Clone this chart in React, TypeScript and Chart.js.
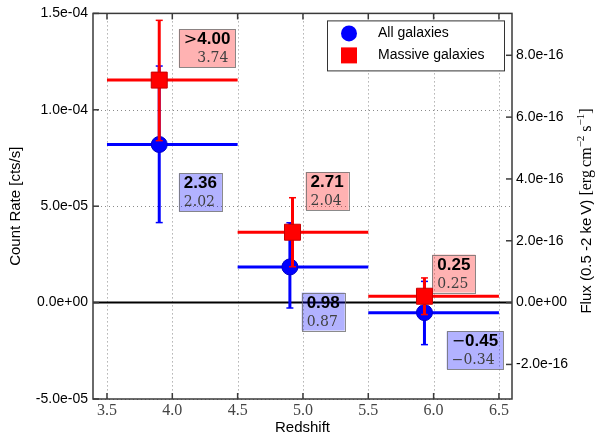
import { useEffect, useRef } from "react";
import { Chart, registerables } from "chart.js";

Chart.register(...registerables);

// Axis ticks
const redshiftTicks = [3.5, 4.0, 4.5, 5.0, 5.5, 6.0, 6.5];
const countRateTicks = [-5e-5, 0, 5e-5, 1e-4, 1.5e-4];
const fluxTicks = [-2e-16, 0, 2e-16, 4e-16, 6e-16, 8e-16];

// Redshift bins
const binLow = [3.5, 4.5, 5.5];
const binHigh = [4.5, 5.5, 6.5];

// All galaxies: stacked count rate and 1-sigma range
const allZ = [3.9, 4.9, 5.93];
const allRate = [8.2e-5, 1.85e-5, -0.52e-5];
const allRateLow = [4.15e-5, -0.28e-5, -2.18e-5];
const allRateHigh = [1.227e-4, 4.14e-5, 1.1e-5];

// Massive galaxies: stacked count rate and 1-sigma range
const massiveZ = [3.9, 4.92, 5.93];
const massiveRate = [1.154e-4, 3.65e-5, 0.33e-5];
const massiveRateLow = [8.4e-5, 1.86e-5, -0.62e-5];
const massiveRateHigh = [1.464e-4, 5.44e-5, 1.28e-5];

// Detection significances (upper: bold, lower: second estimate)
const allSigTop = ["2.36", "0.98", "\u22120.45"];
const allSigBottom = ["2.02", "0.87", "\u22120.34"];
const massiveSigTop = [">4.00", "2.71", "0.25"];
const massiveSigBottom = ["3.74", "2.04", "0.25"];

// Where each significance box sits (top-left corner, in redshift / count-rate units)
const allNoteAt = [
  [4.05, 6.7e-5],
  [4.99, 0.52e-5],
  [6.1, -1.49e-5],
];
const massiveNoteAt = [
  [4.05, 1.417e-4],
  [5.02, 6.77e-5],
  [5.99, 2.49e-5],
];

const BLUE = "#0000ff";
const RED = "#ff0000";
const FRAME = "#3a3a3a";
const SANS = "'Liberation Sans', Arial, sans-serif";
const SERIF = "'Liberation Serif', 'Times New Roman', serif";

function sciLabel(v: number): string {
  if (Math.abs(v) < 1e-30) return "0.0e+00";
  const [m, e] = v.toExponential(1).split("e");
  const n = parseInt(e, 10);
  return `${m}e${n < 0 ? "-" : "+"}${String(Math.abs(n)).padStart(2, "0")}`;
}

function seg(ctx: any, x1: number, y1: number, x2: number, y2: number) {
  ctx.beginPath();
  ctx.moveTo(x1, y1);
  ctx.lineTo(x2, y2);
  ctx.stroke();
}

function drawNote(ctx: any, px: number, py: number, top: string, bottom: string, fill: string) {
  const m = top.match(/^([>\u2212])(.*)$/);
  const prefix = m ? m[1] : "";
  const num = m ? m[2] : top;
  const prefixFont = "16px 'DejaVu Sans', sans-serif";
  const boldFont = `bold 17px ${SANS}`;
  const lowFont = "14px 'DejaVu Serif', serif";
  ctx.font = prefixFont;
  const pw = prefix ? ctx.measureText(prefix).width : 0;
  ctx.font = boldFont;
  const nw = ctx.measureText(num).width;
  ctx.font = lowFont;
  const bw = ctx.measureText(bottom).width;
  const indent = prefix === ">" ? pw : 0;
  const tw = Math.max(pw + nw, indent + bw);
  const pad = 5;
  const w = tw + pad * 2;
  const h = 38;
  ctx.fillStyle = fill;
  ctx.fillRect(px, py, w, h);
  ctx.strokeStyle = "rgba(110,110,110,0.8)";
  ctx.lineWidth = 1;
  ctx.strokeRect(Math.round(px) + 0.5, Math.round(py) + 0.5, Math.round(w), h);
  ctx.textAlign = "left";
  ctx.textBaseline = "alphabetic";
  ctx.fillStyle = "#000";
  if (prefix) {
    ctx.font = prefixFont;
    ctx.fillText(prefix, px + pad, py + 15);
  }
  ctx.font = boldFont;
  ctx.fillText(num, px + pad + pw, py + 15);
  ctx.font = lowFont;
  ctx.fillStyle = "#404040";
  ctx.fillText(bottom, px + pad + indent, py + 33);
}

const errorSets = [
  { z: allZ, rate: allRate, lo: allRateLow, hi: allRateHigh, color: BLUE },
  { z: massiveZ, rate: massiveRate, lo: massiveRateLow, hi: massiveRateHigh, color: RED },
];

const decor = {
  id: "decor",
  beforeDatasetsDraw(chart: any) {
    const { ctx, chartArea: a, scales } = chart;
    const xs = scales.x;
    const ys = scales.y;
    ctx.save();
    // dotted grid
    ctx.strokeStyle = "#8a8a8a";
    ctx.lineWidth = 1;
    ctx.setLineDash([1, 3]);
    for (const v of redshiftTicks) {
      const px = Math.round(xs.getPixelForValue(v)) + 0.5;
      seg(ctx, px, a.top, px, a.bottom);
    }
    for (const v of countRateTicks) {
      if (v === 0) continue;
      const py = Math.round(ys.getPixelForValue(v)) + 0.5;
      seg(ctx, a.left, py, a.right, py);
    }
    ctx.setLineDash([]);
    // zero level
    const y0 = ys.getPixelForValue(0);
    ctx.strokeStyle = "#000";
    ctx.lineWidth = 2;
    seg(ctx, a.left, y0, a.right, y0);
    // significance boxes
    massiveNoteAt.forEach(([x, y], i) => {
      drawNote(ctx, xs.getPixelForValue(x), ys.getPixelForValue(y), massiveSigTop[i], massiveSigBottom[i], "rgba(255,0,0,0.3)");
    });
    allNoteAt.forEach(([x, y], i) => {
      drawNote(ctx, xs.getPixelForValue(x), ys.getPixelForValue(y), allSigTop[i], allSigBottom[i], "rgba(0,0,255,0.3)");
    });
    ctx.restore();
  },
  beforeDatasetDraw(chart: any, args: any) {
    const set = errorSets[args.index];
    if (!set) return;
    const { ctx, scales } = chart;
    const xs = scales.x;
    const ys = scales.y;
    ctx.save();
    ctx.strokeStyle = set.color;
    set.z.forEach((z: number, i: number) => {
      const cy = ys.getPixelForValue(set.rate[i]);
      const cx = xs.getPixelForValue(z);
      const yLo = ys.getPixelForValue(set.lo[i]);
      const yHi = ys.getPixelForValue(set.hi[i]);
      ctx.lineWidth = 3;
      seg(ctx, xs.getPixelForValue(binLow[i]), cy, xs.getPixelForValue(binHigh[i]), cy);
      seg(ctx, cx, yLo, cx, yHi);
      ctx.lineWidth = 1.5;
      seg(ctx, cx - 3.5, yLo, cx + 3.5, yLo);
      seg(ctx, cx - 3.5, yHi, cx + 3.5, yHi);
    });
    ctx.restore();
  },
  afterDraw(chart: any) {
    const { ctx, chartArea: a, scales } = chart;
    ctx.save();
    // frame and inward ticks
    ctx.strokeStyle = FRAME;
    ctx.lineWidth = 1.5;
    ctx.strokeRect(a.left, a.top, a.right - a.left, a.bottom - a.top);
    for (const v of redshiftTicks) {
      const px = scales.x.getPixelForValue(v);
      seg(ctx, px, a.bottom, px, a.bottom - 6);
      seg(ctx, px, a.top, px, a.top + 6);
    }
    for (const v of countRateTicks) {
      const py = scales.y.getPixelForValue(v);
      seg(ctx, a.left, py, a.left + 6, py);
    }
    for (const v of fluxTicks) {
      const py = scales.y2.getPixelForValue(v);
      seg(ctx, a.right - 6, py, a.right, py);
    }

    // axis titles
    ctx.fillStyle = "#000";
    ctx.textAlign = "center";
    ctx.textBaseline = "middle";
    ctx.font = `15px ${SANS}`;
    ctx.fillText("Redshift", (a.left + a.right) / 2, 428);
    ctx.save();
    ctx.translate(16, (a.top + a.bottom) / 2);
    ctx.rotate(-Math.PI / 2);
    ctx.fillText("Count Rate [cts/s]", 0, 0);
    ctx.restore();

    // right-hand title with superscripts
    const pieces = [
      { t: "Flux (0.5 -2 ke\u2009V) ", f: `15px ${SANS}`, dy: 0 },
      { t: "[erg\u2009cm", f: `16px ${SERIF}`, dy: 0 },
      { t: "\u22122", f: `11px ${SERIF}`, dy: -6 },
      { t: " s", f: `16px ${SERIF}`, dy: 0 },
      { t: "\u22121", f: `11px ${SERIF}`, dy: -6 },
      { t: "]", f: `16px ${SERIF}`, dy: 0 },
    ];
    let total = 0;
    for (const p of pieces) {
      ctx.font = p.f;
      total += ctx.measureText(p.t).width;
    }
    ctx.save();
    ctx.translate(587, 211);
    ctx.rotate(-Math.PI / 2);
    ctx.textAlign = "left";
    ctx.textBaseline = "middle";
    let cx = -total / 2;
    for (const p of pieces) {
      ctx.font = p.f;
      ctx.fillText(p.t, cx, p.dy);
      cx += ctx.measureText(p.t).width;
    }
    ctx.restore();

    // legend
    const lx = a.right - 185;
    const ly = a.top + 7;
    ctx.fillStyle = "#fff";
    ctx.fillRect(lx, ly, 177, 50);
    ctx.strokeStyle = "#333";
    ctx.lineWidth = 1;
    ctx.strokeRect(lx + 0.5, ly + 0.5, 177, 50);
    ctx.fillStyle = BLUE;
    ctx.beginPath();
    ctx.arc(lx + 22, ly + 13, 8, 0, Math.PI * 2);
    ctx.fill();
    ctx.fillStyle = RED;
    ctx.fillRect(lx + 14, ly + 27, 16, 16);
    ctx.fillStyle = "#000";
    ctx.font = `14px ${SANS}`;
    ctx.textAlign = "left";
    ctx.textBaseline = "middle";
    ctx.fillText("All galaxies", lx + 51, ly + 13);
    ctx.fillText("Massive galaxies", lx + 51, ly + 35);
    ctx.restore();
  },
};

export default function App() {
  const ref = useRef<HTMLCanvasElement | null>(null);

  useEffect(() => {
    const canvas = ref.current;
    if (!canvas) return;
    const chart = new Chart(canvas, {
      type: "scatter",
      data: {
        datasets: [
          {
            label: "All galaxies",
            data: allZ.map((x, i) => ({ x, y: allRate[i] })),
            pointStyle: "circle",
            pointRadius: 8,
            backgroundColor: BLUE,
            borderColor: "#0000c8",
            borderWidth: 1,
            order: 1,
            yAxisID: "y",
          },
          {
            label: "Massive galaxies",
            data: massiveZ.map((x, i) => ({ x, y: massiveRate[i] })),
            pointStyle: "rect",
            pointRadius: 11.3,
            backgroundColor: RED,
            borderColor: "#c80000",
            borderWidth: 1,
            order: 0,
            yAxisID: "y",
          },
        ] as any,
      },
      options: {
        animation: false,
        responsive: false,
        events: [],
        layout: { padding: { top: 13, left: 0, right: 0, bottom: 0 } },
        plugins: {
          legend: { display: false },
          tooltip: { enabled: false },
        },
        scales: {
          x: {
            type: "linear",
            position: "bottom",
            min: 3.393,
            max: 6.6,
            grid: { display: false, drawTicks: false },
            border: { display: false },
            afterBuildTicks: (s: any) => {
              s.ticks = redshiftTicks.map((value) => ({ value }));
            },
            afterFit: (s: any) => {
              s.height = 40;
            },
            ticks: {
              padding: 2,
              autoSkip: false,
              maxRotation: 0,
              color: "#444",
              font: { family: SERIF, size: 16 },
              callback: (v: any) => Number(v).toFixed(1),
            },
          },
          y: {
            type: "linear",
            position: "left",
            min: -5e-5,
            max: 1.5e-4,
            grid: { display: false, drawTicks: false },
            border: { display: false },
            afterBuildTicks: (s: any) => {
              s.ticks = countRateTicks.map((value) => ({ value }));
            },
            afterFit: (s: any) => {
              s.width = 93;
            },
            ticks: {
              padding: 5,
              autoSkip: false,
              color: "#000",
              font: { family: SANS, size: 14 },
              callback: (v: any) => sciLabel(Number(v)),
            },
          },
          y2: {
            type: "linear",
            axis: "y",
            position: "right",
            min: -3.118e-16,
            max: 9.355e-16,
            grid: { display: false, drawTicks: false },
            border: { display: false },
            afterBuildTicks: (s: any) => {
              s.ticks = fluxTicks.map((value) => ({ value }));
            },
            afterFit: (s: any) => {
              s.width = 86;
            },
            ticks: {
              padding: 4,
              autoSkip: false,
              color: "#000",
              font: { family: SANS, size: 14 },
              callback: (v: any) => sciLabel(Number(v)),
            },
          },
        } as any,
      },
      plugins: [decor],
    });
    return () => chart.destroy();
  }, []);

  return (
    <div style={{ position: "absolute", left: 0, top: 0, width: 598, height: 439, background: "#fff" }}>
      <canvas ref={ref} width={598} height={439} style={{ display: "block" }} />
    </div>
  );
}
